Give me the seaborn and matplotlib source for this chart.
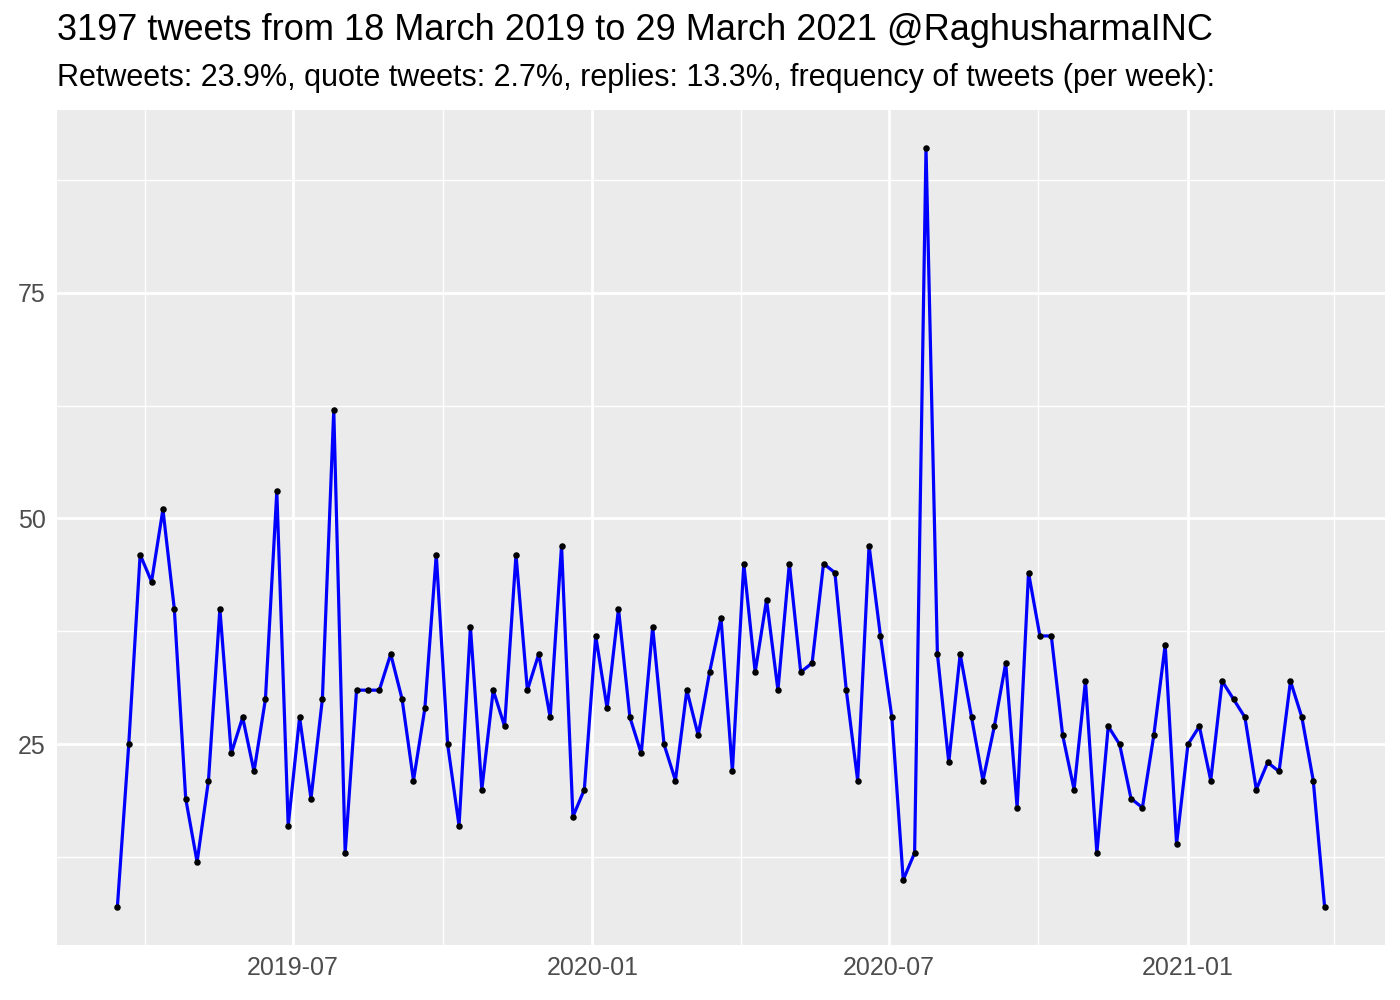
import pandas as pd
import numpy as np

import matplotlib.pyplot as plt
import matplotlib.dates as mdates
import seaborn as sns


# weekly tweet counts
start_date = "2019-03-15"
weekly_counts = [
    7, 25, 46, 43, 51, 40, 19, 12, 21, 40,
    24, 28, 22, 30, 53, 16, 28, 19, 30, 62,
    13, 31, 31, 31, 35, 30, 21, 29, 46, 25,
    16, 38, 20, 31, 27, 46, 31, 35, 28, 47,
    17, 20, 37, 29, 40, 28, 24, 38, 25, 21,
    31, 26, 33, 39, 22, 45, 33, 41, 31, 45,
    33, 34, 45, 44, 31, 21, 47, 37, 28, 10,
    13, 91, 35, 23, 35, 28, 21, 27, 34, 18,
    44, 37, 37, 26, 20, 32, 13, 27, 25, 19,
    18, 26, 36, 14, 25, 27, 21, 32, 30, 28,
    20, 23, 22, 32, 28, 21, 7,
]
y_major = [25, 50, 75]
y_minor = [12.5, 37.5, 62.5, 87.5]
x_major = ["2019-07-01", "2020-01-01", "2020-07-01", "2021-01-01"]
x_minor = ["2019-04-01", "2019-10-01", "2020-04-01", "2020-10-01", "2021-04-01"]

title = "3197 tweets from 18 March 2019 to 29 March 2021 @RaghusharmaINC"
subtitle = ("Retweets: 23.9%, quote tweets: 2.7%, replies: 13.3%, "
            "frequency of tweets (per week):")

df = pd.DataFrame({
    "week": pd.date_range(start_date, periods=len(weekly_counts), freq="7D"),
    "n": weekly_counts,
})

# ggplot2 theme_gray look
sns.set_theme(style="darkgrid", rc={
    "axes.facecolor": "#EBEBEB",
    "figure.facecolor": "white",
    "grid.color": "white",
})
plt.rcParams["font.family"] = ["Liberation Sans", "DejaVu Sans"]

fig = plt.figure(figsize=(14, 10), dpi=100)
ax = fig.add_axes([57 / 1400, 55 / 1000, (1385 - 57) / 1400, (945 - 110) / 1000])

sns.lineplot(x="week", y="n", data=df, color="#0000FF", linewidth=2.3, ax=ax, zorder=3)
sns.scatterplot(x="week", y="n", data=df, color="black", s=22, linewidth=0, ax=ax, zorder=4)

# limits with 5% expansion like ggplot
xmin, xmax = mdates.date2num(df["week"].min()), mdates.date2num(df["week"].max())
pad = (xmax - xmin) * 0.05
ax.set_xlim(xmin - pad, xmax + pad)
ymin, ymax = min(weekly_counts), max(weekly_counts)
ypad = (ymax - ymin) * 0.05
ax.set_ylim(ymin - ypad, ymax + ypad)

ax.set_xticks(mdates.date2num(pd.to_datetime(x_major)))
ax.set_xticks(mdates.date2num(pd.to_datetime(x_minor)), minor=True)
ax.xaxis.set_major_formatter(mdates.DateFormatter("%Y-%m"))
ax.set_yticks(y_major)
ax.set_yticks(y_minor, minor=True)

ax.grid(which="major", color="white", linewidth=2.0)
ax.grid(which="minor", color="white", linewidth=1.0)
ax.set_axisbelow(True)
for s in ax.spines.values():
    s.set_visible(False)

ax.tick_params(axis="both", which="major", length=4.5, width=1.4, color="#333333",
               labelsize=18, labelcolor="#4D4D4D", pad=3.5)
ax.tick_params(axis="both", which="minor", length=0)
ax.set_xlabel("")
ax.set_ylabel("")

fig.text(57 / 1400, 1 - 40 / 1000, title, fontsize=26, color="black",
         ha="left", va="baseline")
fig.text(57 / 1400, 1 - 86 / 1000, subtitle, fontsize=22, color="black",
         ha="left", va="baseline")

fig.savefig("out.png", dpi=100)
